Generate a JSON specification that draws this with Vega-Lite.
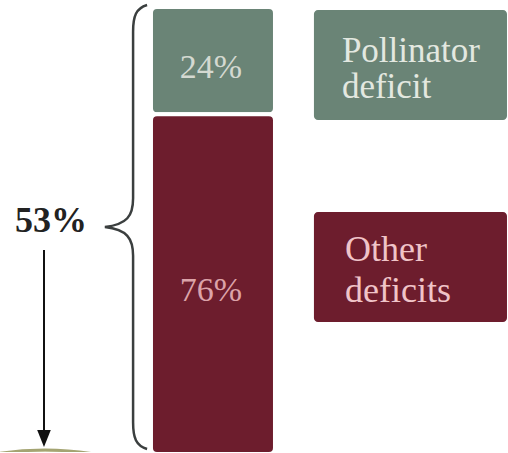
{
  "$schema": "https://vega.github.io/schema/vega-lite/v6.json",
  "width": 508,
  "height": 453,
  "autosize": {"type": "fit", "contains": "padding"},
  "padding": 0,
  "background": "white",
  "config": {
    "view": {"stroke": null},
    "axis": {"disable": true},
    "text": {"font": "Liberation Serif"}
  },
  "datasets": {
    "breakdown": [
      {"deficit": "Pollinator deficit", "share": 0.24},
      {"deficit": "Other deficits", "share": 0.76}
    ],
    "gap": [{"share_of_yield_gap": 0.53}]
  },
  "layer": [
    {
      "layer": [
        {
          "data": {"name": "breakdown"},
          "transform": [
            {"stack": "share", "groupby": [], "as": ["lo", "hi"], "sort": [{"field": "deficit", "order": "ascending"}]}
          ],
          "mark": {"type": "rect", "cornerRadius": 6, "stroke": "white", "strokeWidth": 4},
          "encoding": {
            "x": {"datum": 29.72, "type": "quantitative", "scale": {"domain": [0, 100]}, "axis": null},
            "x2": {"datum": 54.13},
            "y": {"field": "lo", "type": "quantitative", "scale": {"domain": [0, 1], "range": [452, 5]}, "axis": null},
            "y2": {"field": "hi"},
            "color": {
              "field": "deficit",
              "type": "nominal",
              "scale": {"domain": ["Pollinator deficit", "Other deficits"], "range": ["#6a8476", "#6d1d2d"]},
              "legend": null
            }
          }
        },
        {
          "data": {"name": "breakdown"},
          "transform": [
            {"stack": "share", "groupby": [], "as": ["lo", "hi"], "sort": [{"field": "deficit", "order": "ascending"}]},
            {"fold": ["lo", "hi"], "as": ["edge", "pos"]},
            {"aggregate": [{"op": "mean", "field": "pos", "as": "mid"}, {"op": "max", "field": "share", "as": "share"}], "groupby": ["deficit"]}
          ],
          "mark": {"type": "text", "font": "Liberation Serif", "fontSize": 34, "align": "center", "baseline": "alphabetic", "dy": 17},
          "encoding": {
            "x": {"datum": 41.54, "type": "quantitative", "scale": {"domain": [0, 100]}},
            "y": {"field": "mid", "type": "quantitative", "scale": {"domain": [0, 1], "range": [452, 5]}},
            "text": {"field": "share", "type": "quantitative", "format": ".0%"},
            "color": {
              "condition": {"test": "datum.deficit === 'Pollinator deficit'", "value": "#d4d9d1"},
              "value": "#dca3a9"
            }
          }
        },
        {
          "data": {"name": "gap"},
          "mark": {"type": "point", "shape": "circle", "size": 360000, "filled": true, "fill": "#ecebd3", "stroke": "#a4a472", "strokeWidth": 3, "opacity": 1, "clip": true},
          "encoding": {
            "x": {"datum": 8.86, "type": "quantitative", "scale": {"domain": [0, 100]}},
            "y": {"datum": -0.6622, "type": "quantitative", "scale": {"domain": [0, 1], "range": [452, 5]}}
          }
        },
        {
          "data": {"name": "gap"},
          "mark": {
            "type": "point",
            "shape": "M0.095,-1 C0.045,-0.985 0.032,-0.95 0.032,-0.88 L0.032,-0.13 C0.032,-0.05 0.005,-0.012 -0.095,0 C0.005,0.012 0.032,0.05 0.032,0.13 L0.032,0.88 C0.032,0.95 0.045,0.985 0.095,1",
            "filled": false,
            "color": "#3b3f3f",
            "strokeWidth": 2.5,
            "size": 197136,
            "opacity": 1
          },
          "encoding": {
            "x": {"datum": 24.8, "type": "quantitative", "scale": {"domain": [0, 100]}},
            "y": {"datum": 0.5078, "type": "quantitative", "scale": {"domain": [0, 1], "range": [452, 5]}}
          }
        },
        {
          "data": {"name": "gap"},
          "mark": {"type": "rule", "color": "#111111", "strokeWidth": 2},
          "encoding": {
            "x": {"datum": 8.66, "type": "quantitative", "scale": {"domain": [0, 100]}},
            "y": {"datum": 0.4564, "type": "quantitative", "scale": {"domain": [0, 1], "range": [452, 5]}},
            "y2": {"datum": 0.0336}
          }
        },
        {
          "data": {"name": "gap"},
          "mark": {"type": "point", "shape": "M-0.8,-1 L0.8,-1 L0,1 Z", "size": 289, "filled": true, "color": "#111111", "opacity": 1},
          "encoding": {
            "x": {"datum": 8.66, "type": "quantitative", "scale": {"domain": [0, 100]}},
            "y": {"datum": 0.0347, "type": "quantitative", "scale": {"domain": [0, 1], "range": [452, 5]}}
          }
        },
        {
          "data": {"name": "gap"},
          "mark": {"type": "text", "font": "Liberation Serif", "fontSize": 36, "fontWeight": "bold", "align": "center", "baseline": "alphabetic", "color": "#222222"},
          "encoding": {
            "x": {"datum": 10.04, "type": "quantitative", "scale": {"domain": [0, 100]}},
            "y": {"datum": 0.4966, "type": "quantitative", "scale": {"domain": [0, 1], "range": [452, 5]}},
            "text": {"field": "share_of_yield_gap", "type": "quantitative", "format": ".0%"}
          }
        }
      ]
    },
    {
      "data": {"name": "breakdown"},
      "layer": [
        {
          "mark": {"type": "rect", "cornerRadius": 4},
          "encoding": {
            "x": {"datum": 61.8, "type": "quantitative", "scale": {"domain": [0, 100]}},
            "x2": {"datum": 99.8},
            "y": {
              "field": "deficit",
              "type": "nominal",
              "scale": {"domain": ["Pollinator deficit", "Other deficits"], "range": [8, 320], "paddingInner": 0.455, "paddingOuter": 0},
              "axis": null
            },
            "color": {"field": "deficit", "type": "nominal", "legend": null}
          }
        },
        {
          "transform": [{"filter": "datum.deficit === 'Pollinator deficit'"}],
          "mark": {"type": "text", "font": "Liberation Serif", "align": "left", "baseline": "middle", "lineBreak": " ", "fontSize": 35, "lineHeight": 36, "dy": -14, "color": "#e3e8e0"},
          "encoding": {
            "x": {"datum": 67.3, "type": "quantitative", "scale": {"domain": [0, 100]}},
            "y": {"field": "deficit", "type": "nominal"},
            "text": {"field": "deficit"}
          }
        },
        {
          "transform": [{"filter": "datum.deficit === 'Other deficits'"}],
          "mark": {"type": "text", "font": "Liberation Serif", "align": "left", "baseline": "middle", "lineBreak": " ", "fontSize": 36, "lineHeight": 41, "dy": -17, "color": "#f0c4c8"},
          "encoding": {
            "x": {"datum": 67.9, "type": "quantitative", "scale": {"domain": [0, 100]}},
            "y": {"field": "deficit", "type": "nominal"},
            "text": {"field": "deficit"}
          }
        }
      ]
    }
  ],
  "resolve": {"scale": {"y": "independent"}}
}
